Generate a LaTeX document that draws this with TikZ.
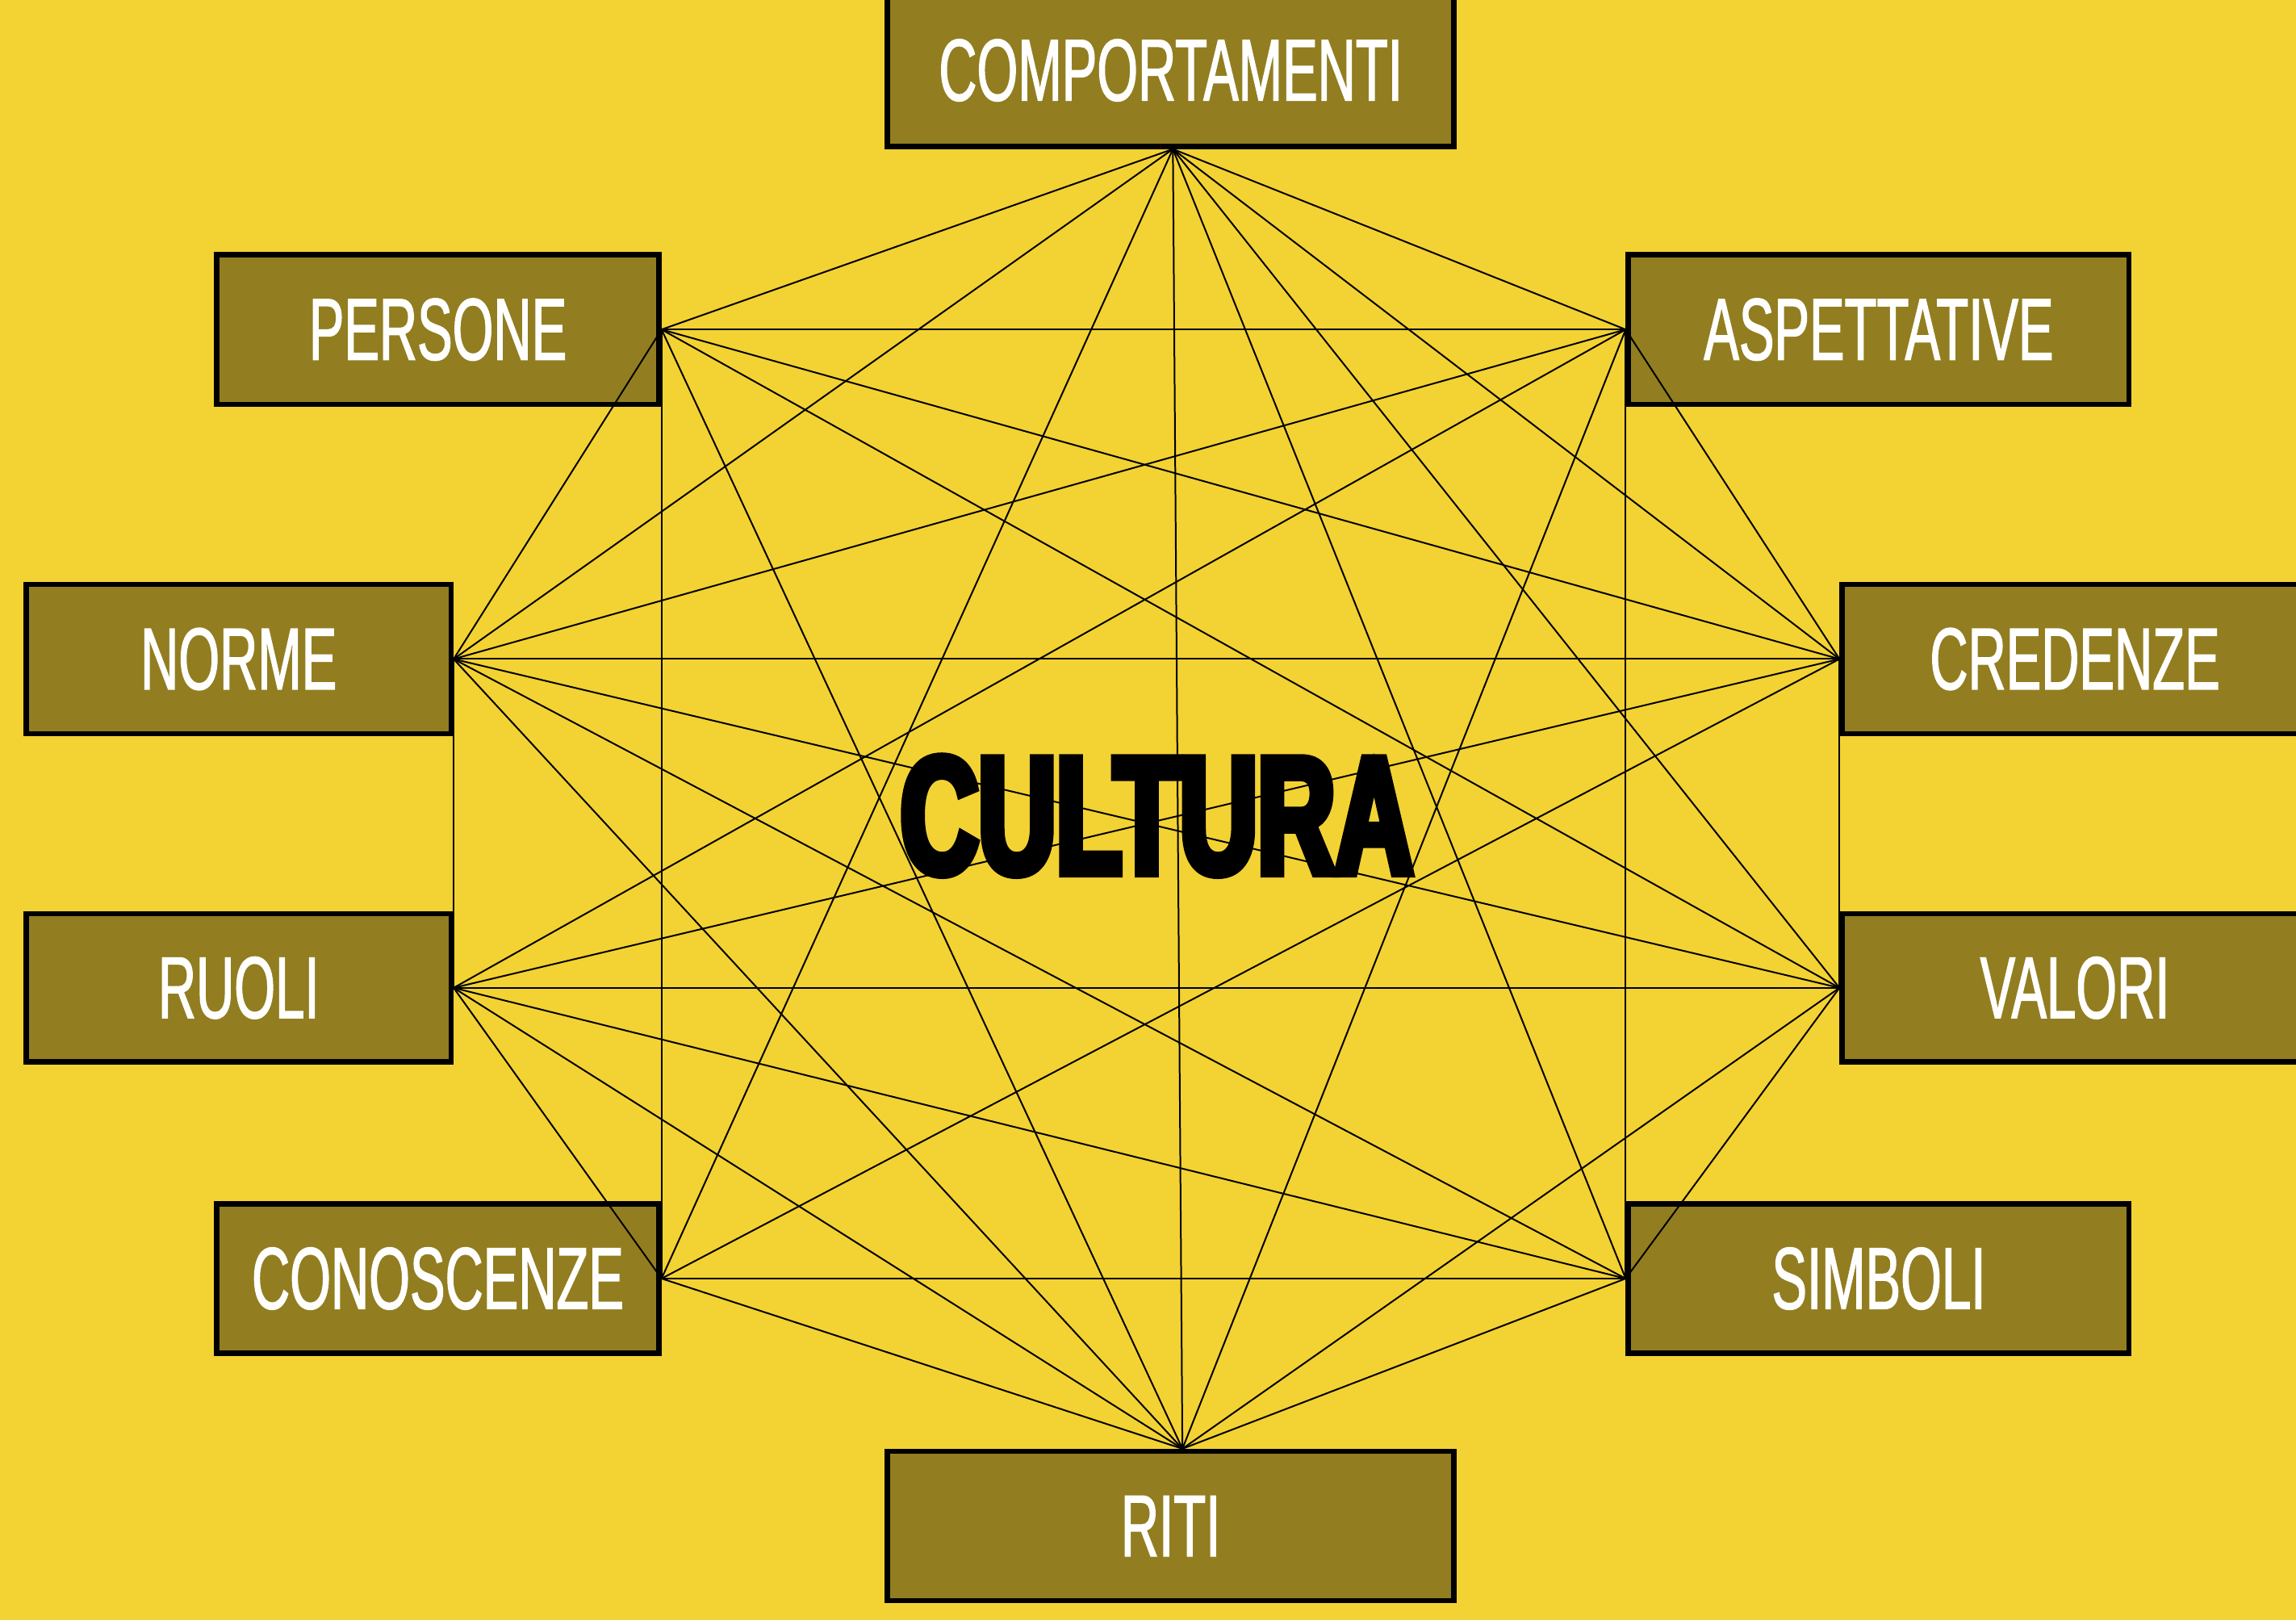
\documentclass[tikz,border=0pt]{standalone}
\usepackage{fontspec}
\newfontfamily\labfont[FakeStretch=0.6,FakeBold=1.2]{Liberation Sans}
\newfontfamily\titfont[FakeStretch=0.645,BoldFeatures={FakeBold=5}]{Liberation Sans}
\definecolor{bg}{HTML}{F3D233}
\definecolor{boxc}{HTML}{927E20}
\begin{document}
\begin{tikzpicture}[x=0.5pt,y=-0.5pt,
  lbox/.style={draw=black, line width=1.8pt, fill=boxc, text=white,
    font=\labfont\fontsize{30}{30}\selectfont, inner sep=0pt, anchor=center},
  link/.style={line width=0.55pt, draw=black},
  title/.style={text=black, font=\titfont\bfseries\fontsize{57}{57}\selectfont, inner sep=0pt}]
\fill[bg] (0,0) rectangle (1568,1106);
\useasboundingbox (0,0) rectangle (1568,1106);
% boxes
\node[lbox, minimum width=193.5pt, minimum height=52pt] (comp) at (799.5,48) {COMPORTAMENTI};
\node[lbox, minimum width=151pt, minimum height=51pt] (pers) at (299,225) {PERSONE};
\node[lbox, minimum width=171pt, minimum height=51pt] (aspe) at (1283,225) {ASPETTATIVE};
\node[lbox, minimum width=145pt, minimum height=51pt] (norm) at (163,450) {NORME};
\node[lbox, minimum width=159pt, minimum height=51pt] (cred) at (1417,450) {CREDENZE};
\node[lbox, minimum width=145pt, minimum height=50.5pt] (ruol) at (163,674.5) {RUOLI};
\node[lbox, minimum width=159pt, minimum height=50.5pt] (valo) at (1417,674.5) {VALORI};
\node[lbox, minimum width=151pt, minimum height=51pt] (cono) at (299,873) {CONOSCENZE};
\node[lbox, minimum width=171pt, minimum height=51pt] (simb) at (1283,873) {SIMBOLI};
\node[lbox, minimum width=193.5pt, minimum height=51pt] (riti) at (799.5,1042) {RITI};
% connection points
\coordinate (Comp) at ([xshift=0.75pt]comp.south);
\coordinate (Aspe) at (aspe.west);
\coordinate (Cred) at (cred.west);
\coordinate (Valo) at (valo.west);
\coordinate (Simb) at (simb.west);
\coordinate (Riti) at ([xshift=4pt]riti.north);
\coordinate (Cono) at (cono.east);
\coordinate (Ruol) at (ruol.east);
\coordinate (Norm) at (norm.east);
\coordinate (Pers) at (pers.east);
% connectors
\foreach \a/\b in {
  Pers/Comp, Pers/Aspe, Pers/Cred, Pers/Valo, Pers/Riti, Pers/Cono, Pers/Norm,
  Norm/Comp, Norm/Aspe, Norm/Cred, Norm/Valo, Norm/Simb, Norm/Riti, Norm/Ruol,
  Ruol/Aspe, Ruol/Cred, Ruol/Valo, Ruol/Simb, Ruol/Riti, Ruol/Cono,
  Cono/Comp, Cono/Cred, Cono/Simb, Cono/Riti,
  Aspe/Comp, Aspe/Riti, Aspe/Simb, Aspe/Cred,
  Cred/Comp, Cred/Valo,
  Comp/Riti, Comp/Valo, Comp/Simb,
  Riti/Simb, Riti/Valo,
  Valo/Simb}
  {\draw[link] (\a) -- (\b);}
\node[title] (cult) at (790,557) {CULTURA};
\end{tikzpicture}
\end{document}
